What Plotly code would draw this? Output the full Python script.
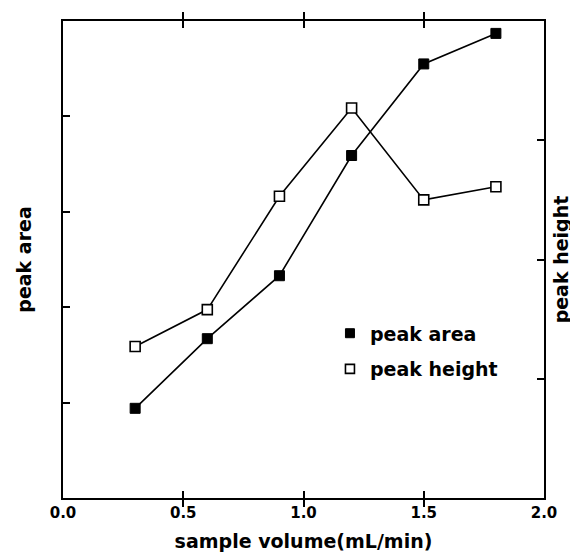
import plotly.graph_objects as go

flow = [0.3, 0.6, 0.9, 1.2, 1.5, 1.8]
peak_area = [0.94, 1.67, 2.33, 3.59, 4.55, 4.87]
peak_height = [1.27, 1.58, 2.53, 3.27, 2.50, 2.61]
x_ticks = [0.0, 0.5, 1.0, 1.5, 2.0]
series_names = ["peak area", "peak height"]

FONT = "DejaVu Sans"
TITLE_FONT = dict(family=FONT, size=19, weight="bold")

fig = go.Figure()
fig.add_trace(go.Scatter(
    x=flow, y=peak_area, name=series_names[0], mode="lines+markers",
    line=dict(color="black", width=1.6),
    marker=dict(symbol="square", size=10, color="black", line=dict(color="black", width=1)),
    showlegend=False,
))
fig.add_trace(go.Scatter(
    x=flow, y=peak_height, name=series_names[1], mode="lines+markers", yaxis="y2",
    line=dict(color="black", width=1.6),
    marker=dict(symbol="square", size=10, color="white", line=dict(color="black", width=1.6)),
    showlegend=False,
))
# legend entries (markers only, as in the reference)
fig.add_trace(go.Scatter(
    x=[None], y=[None], name=series_names[0], mode="markers",
    marker=dict(symbol="square", size=9, color="black", line=dict(color="black", width=1)),
    legendgroup="a",
))
fig.add_trace(go.Scatter(
    x=[None], y=[None], name=series_names[1], mode="markers",
    marker=dict(symbol="square", size=9, color="white", line=dict(color="black", width=1.6)),
    legendgroup="b",
))

axis_common = dict(
    showline=True, linecolor="black", linewidth=2,
    ticks="inside", ticklen=7, tickwidth=1.5, tickcolor="black",
    showgrid=False, zeroline=False,
)

fig.update_layout(
    width=578, height=555,
    margin=dict(l=55, r=42, t=11, b=65),
    paper_bgcolor="white", plot_bgcolor="white",
    font=dict(family=FONT, color="black", size=19),
    showlegend=True,
    legend=dict(
        x=0.555, y=0.385, xanchor="left", yanchor="top",
        bgcolor="rgba(0,0,0,0)", traceorder="grouped", tracegroupgap=8,
        font=TITLE_FONT,
    ),
    xaxis=dict(
        range=[0, 2], tickvals=x_ticks, tickformat=".1f", mirror="allticks",
        tickfont=dict(family=FONT, size=15, weight="bold"),
        title=dict(text="sample volume(mL/min)", standoff=14, font=TITLE_FONT),
        **axis_common,
    ),
    yaxis=dict(
        range=[0, 5], dtick=1, showticklabels=False,
        title=dict(text="peak area", standoff=24, font=TITLE_FONT),
        **axis_common,
    ),
    yaxis2=dict(
        range=[0, 4], dtick=1, showticklabels=False, overlaying="y", side="right",
        title=dict(text="peak height", standoff=10, font=TITLE_FONT),
        **axis_common,
    ),
)

fig.write_html("out.html")
